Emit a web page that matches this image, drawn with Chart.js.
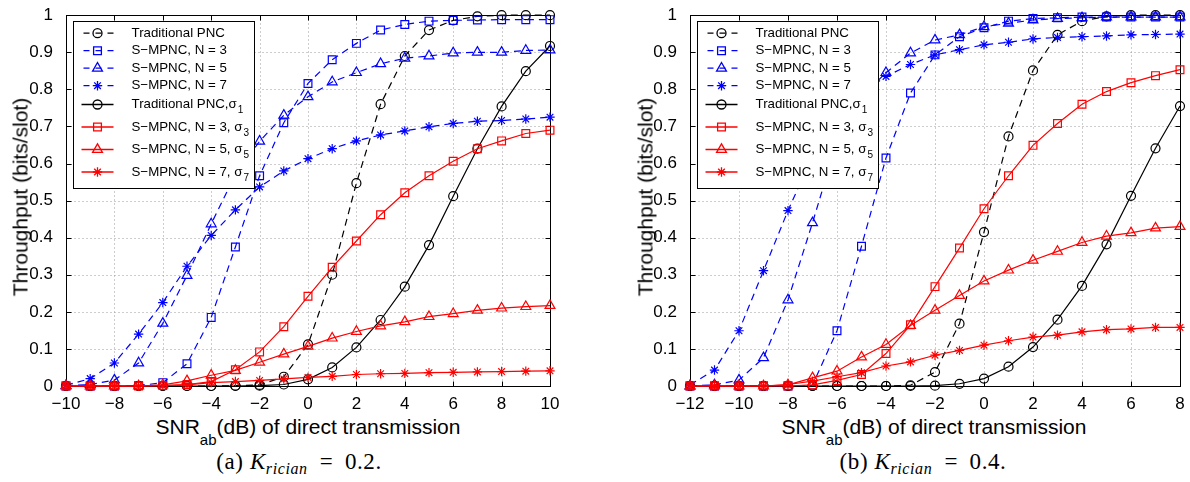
<!DOCTYPE html>
<html>
<head>
<meta charset="utf-8">
<script src="https://cdn.jsdelivr.net/npm/chart.js@4/dist/chart.umd.min.js"></script>
<style>
  body { margin: 0; background: #fff; }
  #wrap { position: relative; width: 1190px; height: 482px; background: #fff; overflow: hidden; }
  canvas { position: absolute; top: 0; }
  .ytitle, .xtitle, .caption { position: absolute; white-space: nowrap; color: #000; }
  .ytitle, .xtitle { font: 21px "Liberation Sans", Arial, sans-serif; line-height: 21px; }
  .ytitle { transform: translate(-50%, -50%) rotate(-90deg); }
  .xtitle { transform: translateX(-50%); }
  .xtitle .sub { font-size: 15px; position: relative; top: 11px; }
  .caption { font: 23px "Liberation Serif", "DejaVu Serif", serif; line-height: 23px; letter-spacing: 0.6px; transform: translateX(-50%); }
  .caption .sub { font-size: 16px; font-style: italic; position: relative; top: 5px; }
</style>
</head>
<body>
<div id="wrap">
  <canvas id="chartA" width="600" height="415" style="left:0"></canvas>
  <canvas id="chartB" width="590" height="415" style="left:600px"></canvas>
  <div class="ytitle" style="left:20px;top:197px">Throughput (bits/slot)</div>
  <div class="ytitle" style="left:645px;top:197px">Throughput (bits/slot)</div>
  <div class="xtitle" style="left:308px;top:416px">SNR<span class="sub">ab</span>(dB) of direct transmission</div>
  <div class="xtitle" style="left:934px;top:416px">SNR<span class="sub">ab</span>(dB) of direct transmission</div>
  <div class="caption" style="left:299px;top:450px">(a) <i>K</i><span class="sub">rician</span>&ensp;=&nbsp;&thinsp;0.2.</div>
  <div class="caption" style="left:923px;top:450px">(b) <i>K</i><span class="sub">rician</span>&ensp;=&nbsp;&thinsp;0.4.</div>
</div>
<script>
// SNR values (dB) for both panels
const xA = [-10, -9, -8, -7, -6, -5, -4, -3, -2, -1, 0, 1, 2, 3, 4, 5, 6, 7, 8, 9, 10];
const xB = [-12, -11, -10, -9, -8, -7, -6, -5, -4, -3, -2, -1, 0, 1, 2, 3, 4, 5, 6, 7, 8];

// Panel (a): K_rician = 0.2
const tradA   = [0, 0, 0, 0, 0, 0, 0, 0.001, 0.003, 0.025, 0.112, 0.30, 0.547, 0.76, 0.89, 0.96, 0.986, 0.997, 1, 1, 1];
const n3A     = [0, 0, 0, 0.001, 0.009, 0.06, 0.185, 0.375, 0.567, 0.71, 0.816, 0.88, 0.924, 0.96, 0.975, 0.984, 0.986, 0.987, 0.988, 0.988, 0.988];
const n5A     = [0.001, 0.004, 0.016, 0.062, 0.169, 0.298, 0.437, 0.57, 0.66, 0.73, 0.78, 0.82, 0.845, 0.869, 0.884, 0.89, 0.898, 0.9, 0.9, 0.905, 0.906];
const n7A     = [0.002, 0.02, 0.062, 0.14, 0.225, 0.323, 0.406, 0.475, 0.537, 0.58, 0.613, 0.64, 0.661, 0.677, 0.688, 0.699, 0.708, 0.714, 0.716, 0.72, 0.725];
const tradS1A = [0, 0, 0, 0, 0, 0, 0, 0, 0.001, 0.004, 0.018, 0.05, 0.104, 0.178, 0.268, 0.38, 0.512, 0.64, 0.754, 0.849, 0.917];
const n3S3A   = [0, 0, 0, 0, 0.001, 0.004, 0.012, 0.044, 0.092, 0.16, 0.242, 0.32, 0.391, 0.462, 0.521, 0.567, 0.606, 0.64, 0.661, 0.681, 0.69];
const n5S5A   = [0, 0, 0, 0, 0.003, 0.014, 0.029, 0.042, 0.064, 0.086, 0.107, 0.129, 0.147, 0.162, 0.173, 0.187, 0.195, 0.204, 0.21, 0.214, 0.217];
const n7S7A   = [0, 0, 0, 0, 0.001, 0.003, 0.009, 0.012, 0.015, 0.019, 0.023, 0.026, 0.031, 0.033, 0.034, 0.036, 0.037, 0.038, 0.039, 0.04, 0.041];

// Panel (b): K_rician = 0.4
const tradB   = [0, 0, 0, 0, 0, 0, 0, 0, 0, 0.002, 0.0375, 0.168, 0.415, 0.673, 0.851, 0.947, 0.984, 0.997, 1, 1, 1];
const n3B     = [0, 0, 0, 0, 0, 0.002, 0.149, 0.377, 0.615, 0.79, 0.893, 0.942, 0.966, 0.984, 0.991, 0.993, 0.995, 0.995, 0.995, 0.995, 0.995];
const n5B     = [0, 0.003, 0.016, 0.076, 0.232, 0.44, 0.66, 0.78, 0.845, 0.898, 0.933, 0.947, 0.969, 0.978, 0.987, 0.991, 0.993, 0.995, 0.995, 0.995, 0.995];
const n7B     = [0.003, 0.043, 0.149, 0.311, 0.473, 0.62, 0.72, 0.79, 0.835, 0.867, 0.893, 0.907, 0.92, 0.927, 0.936, 0.94, 0.942, 0.944, 0.947, 0.948, 0.949];
const tradS1B = [0, 0, 0, 0, 0, 0, 0, 0, 0, 0, 0.001, 0.006, 0.02, 0.052, 0.105, 0.179, 0.27, 0.382, 0.513, 0.641, 0.755];
const n3S3B   = [0, 0, 0, 0, 0, 0.003, 0.015, 0.031, 0.0875, 0.165, 0.268, 0.372, 0.478, 0.567, 0.649, 0.708, 0.76, 0.794, 0.818, 0.837, 0.853];
const n5S5B   = [0, 0, 0, 0, 0.003, 0.022, 0.04, 0.078, 0.112, 0.163, 0.204, 0.244, 0.283, 0.3125, 0.339, 0.363, 0.387, 0.404, 0.413, 0.426, 0.43];
const n7S7B   = [0, 0, 0, 0, 0.004, 0.013, 0.025, 0.036, 0.054, 0.065, 0.083, 0.096, 0.11, 0.122, 0.132, 0.137, 0.146, 0.152, 0.154, 0.158, 0.158];

// Legend text: main part and subscript
const legendLabels = ['Traditional PNC', 'S\u2212MPNC, N = 3', 'S\u2212MPNC, N = 5', 'S\u2212MPNC, N = 7',
  'Traditional PNC,\u03c3', 'S\u2212MPNC, N = 3, \u03c3', 'S\u2212MPNC, N = 5, \u03c3', 'S\u2212MPNC, N = 7, \u03c3'];
const legendSubs = ['', '', '', '', '1', '3', '5', '7'];

// Line/marker look for each series, same order as the legend
const seriesStyles = [
  { color: '#000000', marker: 'circle',   radius: 4.5, dash: [7, 5] },
  { color: '#0000ff', marker: 'rect',     radius: 5.5, dash: [7, 5] },
  { color: '#0000ff', marker: 'triangle', radius: 5.7, dash: [7, 5] },
  { color: '#0000ff', marker: 'star',     radius: 4.7, dash: [7, 5] },
  { color: '#000000', marker: 'circle',   radius: 4.5, dash: [] },
  { color: '#ff0000', marker: 'rect',     radius: 5.5, dash: [] },
  { color: '#ff0000', marker: 'triangle', radius: 5.7, dash: [] },
  { color: '#ff0000', marker: 'star',     radius: 4.7, dash: [] }
];

const FONT = '"Liberation Sans", Arial, sans-serif';
Chart.defaults.font.family = FONT;
Chart.defaults.color = '#000';

// Dotted grid, box frame and inward ticks, drawn under the data
const frameAndGrid = {
  id: 'frameAndGrid',
  beforeDatasetsDraw(chart) {
    const { ctx, chartArea: a, scales: { x, y } } = chart;
    const L = Math.round(a.left) + 0.5, R = Math.round(a.right) + 0.5;
    const T = Math.round(a.top) + 0.5, B = Math.round(a.bottom) + 0.5;
    ctx.save();
    ctx.lineWidth = 1;
    ctx.strokeStyle = '#9a9a9a';
    ctx.setLineDash([1, 3]);
    x.ticks.forEach(t => {
      const px = Math.round(x.getPixelForValue(t.value)) + 0.5;
      if (px <= L + 1 || px >= R - 1) return;
      ctx.beginPath(); ctx.moveTo(px, T); ctx.lineTo(px, B); ctx.stroke();
    });
    y.ticks.forEach(t => {
      const py = Math.round(y.getPixelForValue(t.value)) + 0.5;
      if (py <= T + 1 || py >= B - 1) return;
      ctx.beginPath(); ctx.moveTo(L, py); ctx.lineTo(R, py); ctx.stroke();
    });
    ctx.setLineDash([]);
    ctx.strokeStyle = '#000';
    ctx.strokeRect(L, T, R - L, B - T);
    const len = 5;
    ctx.beginPath();
    x.ticks.forEach(t => {
      const px = Math.round(x.getPixelForValue(t.value)) + 0.5;
      ctx.moveTo(px, B); ctx.lineTo(px, B - len);
      ctx.moveTo(px, T); ctx.lineTo(px, T + len);
    });
    y.ticks.forEach(t => {
      const py = Math.round(y.getPixelForValue(t.value)) + 0.5;
      ctx.moveTo(L, py); ctx.lineTo(L + len, py);
      ctx.moveTo(R, py); ctx.lineTo(R - len, py);
    });
    ctx.stroke();
    ctx.restore();
  }
};

// Boxed legend in the upper left of the plot, with line samples and markers
const boxLegend = {
  id: 'boxLegend',
  afterDatasetsDraw(chart, args, opts) {
    const { ctx, chartArea: a } = chart;
    const bx = Math.round(a.left + opts.dx) + 0.5;
    const by = Math.round(a.top + opts.dy) + 0.5;
    const w = 181, h = 167;
    const rows = [11.7, 29.2, 46.7, 64.2, 83, 105.5, 128, 150.5];
    ctx.save();
    ctx.fillStyle = '#fff';
    ctx.fillRect(bx, by, w, h);
    ctx.lineWidth = 1;
    ctx.strokeStyle = '#000';
    ctx.strokeRect(bx, by, w, h);
    rows.forEach((ry, i) => {
      const s = seriesStyles[i];
      const cy = by + ry;
      ctx.strokeStyle = s.color;
      ctx.lineWidth = 1.3;
      ctx.setLineDash(s.dash.length ? [6, 6] : []);
      ctx.lineDashOffset = s.dash.length ? -2 : 0;
      ctx.beginPath();
      ctx.moveTo(bx + 8, cy); ctx.lineTo(bx + 40, cy);
      ctx.stroke();
      ctx.setLineDash([]);
      ctx.fillStyle = 'rgba(0,0,0,0)';
      Chart.helpers.drawPoint(ctx, { pointStyle: s.marker, radius: s.radius, rotation: 0, borderWidth: 1.3 }, bx + 24, cy);
      ctx.fillStyle = '#000';
      ctx.font = '13.3px ' + FONT;
      ctx.textBaseline = 'middle';
      ctx.textAlign = 'left';
      ctx.fillText(legendLabels[i], bx + 58, cy);
      if (legendSubs[i]) {
        const tw = ctx.measureText(legendLabels[i]).width;
        ctx.font = '10px ' + FONT;
        ctx.fillText(legendSubs[i], bx + 58 + tw + 1, cy + 6);
      }
    });
    ctx.restore();
  }
};

// Build one panel's datasets from the x values and the series arrays
function makeDatasets(xs, seriesList) {
  return seriesList.map((ys, i) => {
    const s = seriesStyles[i];
    return {
      label: legendLabels[i] + legendSubs[i],
      data: xs.map((xv, k) => ({ x: xv, y: ys[k] })),
      borderColor: s.color,
      borderWidth: 1.2,
      borderDash: s.dash,
      pointStyle: s.marker,
      pointRadius: s.radius,
      pointBorderWidth: 1.2,
      pointBorderColor: s.color,
      pointBackgroundColor: 'rgba(0,0,0,0)',
      tension: 0,
      fill: false,
      clip: false,
      order: seriesList.length - 1 - i
    };
  });
}

// Create a panel with a fixed plot area
function buildChart(canvasId, xs, seriesList, xMin, xMax, box) {
  const ctx = document.getElementById(canvasId).getContext('2d');
  return new Chart(ctx, {
    type: 'line',
    data: { datasets: makeDatasets(xs, seriesList) },
    options: {
      responsive: false,
      animation: false,
      devicePixelRatio: 1,
      layout: { padding: { top: box.top, right: box.right, left: 0, bottom: 0 } },
      plugins: {
        legend: { display: false },
        tooltip: { enabled: false },
        boxLegend: { dx: 7, dy: 6 }
      },
      scales: {
        x: {
          type: 'linear', min: xMin, max: xMax,
          grid: { display: false }, border: { display: false },
          ticks: { stepSize: 2, font: { size: 17 }, color: '#000', padding: 0, maxRotation: 0,
                   callback: v => String(v).replace('-', '\u2212') },
          afterFit: s => { s.height = box.xHeight; }
        },
        y: {
          min: 0, max: 1,
          grid: { display: false }, border: { display: false },
          ticks: { stepSize: 0.1, font: { size: 17 }, color: '#000', padding: 5,
                   callback: v => String(+v.toFixed(1)) },
          afterFit: s => { s.width = box.yWidth; }
        }
      }
    },
    plugins: [frameAndGrid, boxLegend]
  });
}

buildChart('chartA', xA, [tradA, n3A, n5A, n7A, tradS1A, n3S3A, n5S5A, n7S7A], -10, 10,
  { top: 9, right: 50, yWidth: 66, xHeight: 29 });
buildChart('chartB', xB, [tradB, n3B, n5B, n7B, tradS1B, n3S3B, n5S5B, n7S7B], -12, 8,
  { top: 10, right: 10, yWidth: 90, xHeight: 29 });
</script>
</body>
</html>
